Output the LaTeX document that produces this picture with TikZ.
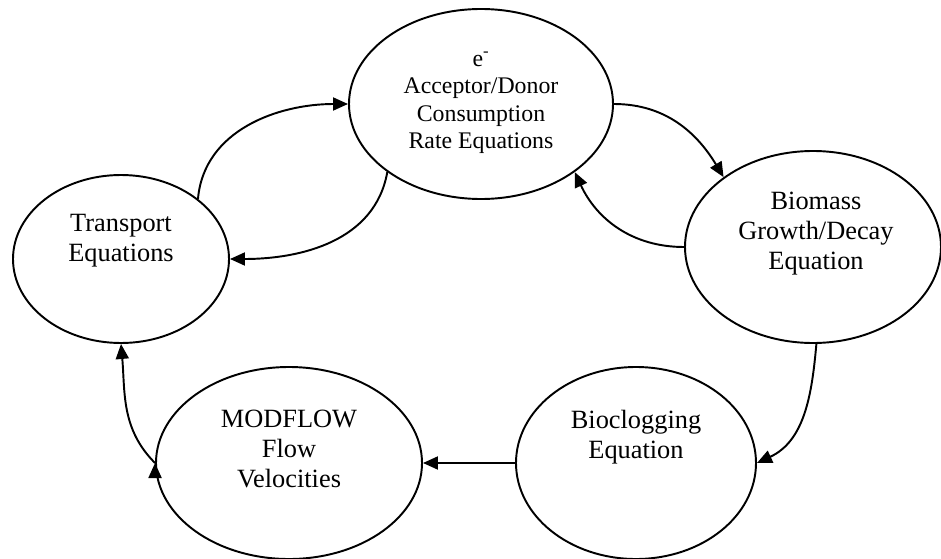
\documentclass[tikz,border=0pt]{standalone}
\usepackage{fontspec}
\setmainfont{Liberation Serif}
\usetikzlibrary{shapes,arrows.meta,positioning}
\tikzset{>={Triangle[length=3mm,width=2.6mm]}}
\tikzset{box node/.style={ellipse,draw,line width=1.1pt,inner sep=0pt},
         text node/.style={align=center,font=\fontsize{15}{17.1}\selectfont},
            }

\begin{document}
\begin{tikzpicture}
    \useasboundingbox (0,0) rectangle (18.82,11.16);

    \node[box node,minimum width=5.28cm,minimum height=3.8cm] (rate) at (9.62,9.08) {};
    \node[box node,minimum width=4.32cm,minimum height=3.36cm] (transport) at (2.42,5.98) {};
    \node[box node,minimum width=5.12cm,minimum height=3.84cm] (biomass) at (16.26,6.22) {};
    \node[box node,minimum width=4.8cm,minimum height=3.84cm] (bioclog) at (12.72,1.9) {};
    \node[box node,minimum width=5.32cm,minimum height=3.84cm] (modflow) at (5.78,1.9) {};

    \node[text node,font=\fontsize{13.55}{15.65}\selectfont] (rate text) at ([yshift=0.02cm]rate.center)
        {e\textsuperscript{-}\\Acceptor/Donor\\Consumption\\Rate Equations};
    \node[text node] (transport text) at ([yshift=0.36cm]transport.center) {Transport\\Equations};
    \node[text node] (biomass text) at ([xshift=0.06cm,yshift=0.26cm]biomass.center) {Biomass\\Growth/Decay\\Equation};
    \node[text node] (bioclog text) at ([yshift=0.52cm]bioclog.center) {Bioclogging\\Equation};
    \node[text node] (modflow text) at ([yshift=0.28cm]modflow.center) {MODFLOW\\Flow\\Velocities};

    \path[draw,line width=1.1pt,->]
    (transport.38) edge[out=85,in=180] (rate.west)
    (rate.216) edge[out=-100,in=0] (transport.east)
    (rate.east) edge[out=0,in=121] (biomass.142)
    (biomass.west) edge[out=180,in=-65] (rate.-36)
    (biomass.-88) edge[out=-95,in=25] (bioclog.east)
    (bioclog.west) edge (modflow.east)
    (modflow.west) edge[out=135,in=-85] (transport.south);

\end{tikzpicture}
\end{document}
